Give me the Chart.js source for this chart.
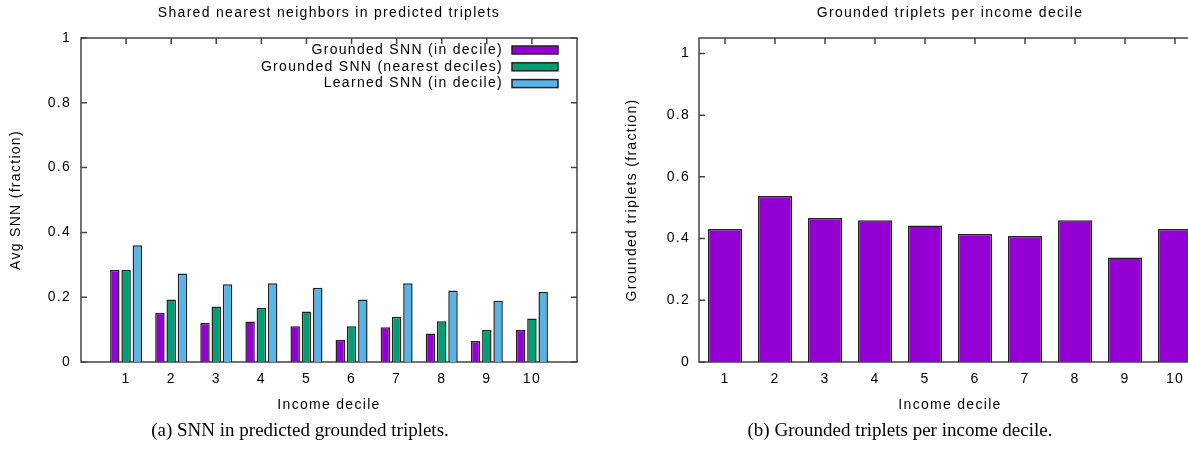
<!DOCTYPE html>
<html>
<head>
<meta charset="utf-8">
<script src="https://cdn.jsdelivr.net/npm/chart.js@4.4.1/dist/chart.umd.min.js"></script>
<style>
  html, body { margin: 0; padding: 0; background: #fff; overflow: hidden; }
  body { width: 1188px; height: 455px; position: relative; }
  #snnChart { position: absolute; left: 0; top: 0; }
  #tripletChart { position: absolute; left: 600px; top: 0; }
  .caption {
    position: absolute; top: 419px;
    font-family: "Liberation Serif", "Times New Roman", serif;
    font-size: 19px; color: #000; text-align: center; white-space: nowrap;
  }
</style>
</head>
<body>
<canvas id="snnChart" width="600" height="420"></canvas>
<canvas id="tripletChart" width="620" height="420"></canvas>
<div class="caption" style="left:0; width:600px;">(a) SNN in predicted grounded triplets.</div>
<div class="caption" style="left:600px; width:600px;">(b) Grounded triplets per income decile.</div>
<script>
// values
const deciles = [1, 2, 3, 4, 5, 6, 7, 8, 9, 10];
const groundedInDecile = [0.284, 0.152, 0.121, 0.125, 0.110, 0.069, 0.107, 0.088, 0.065, 0.099];
const groundedNearest = [0.284, 0.193, 0.171, 0.167, 0.156, 0.110, 0.140, 0.126, 0.099, 0.134];
const learnedInDecile = [0.360, 0.273, 0.240, 0.243, 0.229, 0.193, 0.243, 0.221, 0.189, 0.216];
const groundedFraction = [0.431, 0.538, 0.467, 0.459, 0.442, 0.415, 0.408, 0.459, 0.339, 0.431];
const seriesLabels = ['Grounded SNN (in decile)', 'Grounded SNN (nearest deciles)', 'Learned SNN (in decile)'];
const yTicks = [0, 0.2, 0.4, 0.6, 0.8, 1];

const purple = '#9400d3';
const green = '#009e73';
const skyBlue = '#56b4e9';

Chart.defaults.font.family = '"Liberation Sans", Arial, sans-serif';
Chart.defaults.font.size = 14;
Chart.defaults.color = '#000';

const toPoints = (vals) => vals.map((v, i) => ({ x: deciles[i], y: v }));

// gnuplot-ish text is a bit wider than Arial
const spacedText = {
  id: 'spacedText',
  beforeUpdate(chart) { chart.ctx.letterSpacing = '1.3px'; },
  beforeDraw(chart) { chart.ctx.letterSpacing = '1.3px'; }
};

// closed frame with inward ticks on all sides
const frameTicks = {
  id: 'frameTicks',
  beforeDatasetsDraw(chart) {
    const { ctx, chartArea: a, scales } = chart;
    ctx.save();
    ctx.strokeStyle = '#444';
    ctx.lineWidth = 1.5;
    ctx.strokeRect(a.left, a.top, a.right - a.left, a.bottom - a.top);
    ctx.beginPath();
    scales.y.ticks.forEach(t => {
      const py = scales.y.getPixelForValue(t.value);
      ctx.moveTo(a.left, py); ctx.lineTo(a.left + 6, py);
      ctx.moveTo(a.right, py); ctx.lineTo(a.right - 6, py);
    });
    scales.x.ticks.forEach(t => {
      const px = scales.x.getPixelForValue(t.value);
      ctx.moveTo(px, a.top); ctx.lineTo(px, a.top + 6);
      ctx.moveTo(px, a.bottom); ctx.lineTo(px, a.bottom - 6);
    });
    ctx.stroke();
    ctx.restore();
  }
};

// key in the top right corner: text right aligned, swatch after it
const keyBox = {
  id: 'keyBox',
  afterDatasetsDraw(chart) {
    const { ctx, chartArea: a } = chart;
    ctx.save();
    ctx.font = '14px "Liberation Sans", Arial, sans-serif';
    ctx.letterSpacing = '1.3px';
    ctx.textAlign = 'right';
    ctx.textBaseline = 'middle';
    ctx.lineWidth = 1.5;
    ctx.strokeStyle = '#222';
    chart.data.datasets.forEach((ds, i) => {
      const y = a.top + 12 + i * 16.8;
      ctx.fillStyle = '#000';
      ctx.fillText(ds.label, a.right - 74, y);
      ctx.fillStyle = ds.backgroundColor;
      ctx.fillRect(a.right - 65, y - 4, 46, 8);
      ctx.strokeRect(a.right - 65, y - 4, 46, 8);
    });
    ctx.restore();
  }
};

// (a) Shared nearest neighbors
const snnCtx = document.getElementById('snnChart').getContext('2d');
const snnChart = new Chart(snnCtx, {
  type: 'bar',
  data: {
    datasets: [
      { label: seriesLabels[0], data: toPoints(groundedInDecile), backgroundColor: purple },
      { label: seriesLabels[1], data: toPoints(groundedNearest), backgroundColor: green },
      { label: seriesLabels[2], data: toPoints(learnedInDecile), backgroundColor: skyBlue }
    ]
  },
  options: {
    responsive: false,
    animation: false,
    layout: { padding: { right: 23 } },
    datasets: {
      bar: { borderColor: '#222', borderWidth: 1.5, categoryPercentage: 0.75, barPercentage: 0.84 }
    },
    plugins: {
      legend: { display: false },
      tooltip: { enabled: false },
      title: {
        display: true, fullSize: false,
        text: 'Shared nearest neighbors in predicted triplets',
        font: { size: 14, weight: 'normal' },
        padding: { top: 5, bottom: 16.2 }
      }
    },
    scales: {
      x: {
        type: 'linear', min: 0, max: 11, offset: false,
        afterBuildTicks: s => { s.ticks = deciles.map(v => ({ value: v })); },
        afterFit: s => { s.height = 58; },
        grid: { display: false, drawTicks: false },
        border: { display: false },
        ticks: { padding: 8.5, callback: v => String(v) },
        title: { display: true, text: 'Income decile', padding: { top: 4, bottom: 6.6 } }
      },
      y: {
        min: 0, max: 1,
        afterBuildTicks: s => { s.ticks = yTicks.map(v => ({ value: v })); },
        afterFit: s => { s.width = 81; },
        grid: { display: false, drawTicks: false },
        border: { display: false },
        ticks: { padding: 10, callback: v => String(v) },
        title: { display: true, text: 'Avg SNN (fraction)', padding: { top: 8, bottom: 4 } }
      }
    }
  },
  plugins: [spacedText, frameTicks, keyBox]
});

// (b) Grounded triplets
const tripletCtx = document.getElementById('tripletChart').getContext('2d');
const tripletChart = new Chart(tripletCtx, {
  type: 'bar',
  data: {
    datasets: [{
      label: 'Grounded triplets',
      data: toPoints(groundedFraction),
      backgroundColor: purple,
      borderColor: '#222',
      borderWidth: 1.5,
      categoryPercentage: 1,
      barPercentage: 0.68
    }]
  },
  options: {
    responsive: false,
    animation: false,
    layout: { padding: { right: 19 } },
    plugins: {
      legend: { display: false },
      tooltip: { enabled: false },
      title: {
        display: true, fullSize: false,
        text: 'Grounded triplets per income decile',
        font: { size: 14, weight: 'normal' },
        padding: { top: 5, bottom: 16.2 }
      }
    },
    scales: {
      x: {
        type: 'linear', min: 0.48, max: 10.52, offset: false,
        afterBuildTicks: s => { s.ticks = deciles.map(v => ({ value: v })); },
        afterFit: s => { s.height = 58; },
        grid: { display: false, drawTicks: false },
        border: { display: false },
        ticks: { padding: 8.5, callback: v => String(v) },
        title: { display: true, text: 'Income decile', padding: { top: 4, bottom: 6.6 } }
      },
      y: {
        min: 0, max: 1.05,
        afterBuildTicks: s => { s.ticks = yTicks.map(v => ({ value: v })); },
        afterFit: s => { s.width = 99; },
        grid: { display: false, drawTicks: false },
        border: { display: false },
        ticks: { padding: 9, callback: v => String(v) },
        title: { display: true, text: 'Grounded triplets (fraction)', padding: { top: 23.6, bottom: 4 } }
      }
    }
  },
  plugins: [spacedText, frameTicks]
});
</script>
</body>
</html>
